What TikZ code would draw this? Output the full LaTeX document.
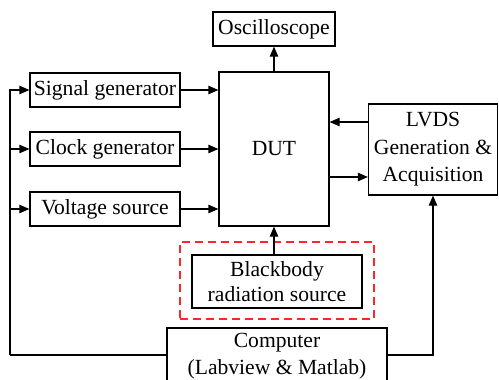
\documentclass[tikz,border=0pt]{standalone}
\usepackage{fontspec}
\setmainfont{Liberation Serif}
\usetikzlibrary{arrows.meta,calc}
\begin{document}
\begin{tikzpicture}[x=0.5pt,y=-0.5pt,
  box/.style={draw,line width=0.6pt,inner sep=0pt,align=center,font=\fontsize{10.8}{13.8}\selectfont},
  arr/.style={line width=0.6pt,-{Triangle[length=5pt,width=4.2pt]}},
  ln/.style={line width=0.6pt}]
\clip (0,0) rectangle (499,380);
\node[box,minimum width=61pt,minimum height=17pt] (osc) at (274,29) {Oscilloscope};
\node[box,minimum width=75pt,minimum height=17pt] (sig) at (105,90) {Signal generator};
\node[box,minimum width=75pt,minimum height=17pt] (clk) at (105,149) {Clock generator};
\node[box,minimum width=75pt,minimum height=17pt] (volt) at (105,209) {Voltage source};
\node[box,minimum width=55pt,minimum height=77pt] (dut) at (274,149) {DUT};
\node[box,minimum width=64.5pt,minimum height=45.5pt] (lvds) at (433,149.5) {LVDS\\Generation \&\\Acquisition};
\node[draw=red!85!white,line width=0.7pt,dash pattern=on 4pt off 2.5pt,minimum width=97pt,minimum height=38.5pt,inner sep=0pt] (dash) at (277,280.5) {};
\node[box,minimum width=85pt,minimum height=26.5pt,font=\fontsize{10.8}{12.5}\selectfont] (bb) at (277,281.5) {Blackbody\\radiation source};
\node[box,minimum width=110pt,minimum height=28pt] (comp) at (277,356) {Computer\\(Labview \& Matlab)};
\coordinate (bl) at (10,355);
% inputs to DUT
\draw[arr] (sig.east) -- (sig.east -| dut.west);
\draw[arr] (clk.east) -- (clk.east -| dut.west);
\draw[arr] (volt.east) -- (volt.east -| dut.west);
% left bus
\draw[ln] (comp.west |- bl) -- (bl);
\draw[arr] (bl) |- (sig.west);
\draw[arr] (bl |- clk.west) -- (clk.west);
\draw[arr] (bl |- volt.west) -- (volt.west);
% computer to LVDS
\draw[arr] (comp.east |- bl) -| (lvds.south);
% DUT to oscilloscope
\draw[arr] (dut.north) -- (osc.south);
% blackbody to DUT
\draw[arr] (dut.south |- bb.north) -- (dut.south);
% LVDS <-> DUT
\draw[arr] (lvds.west |- 0,122) -- (dut.east |- 0,122);
\draw[arr] (dut.east |- 0,177) -- (lvds.west |- 0,177);
\end{tikzpicture}
\end{document}
